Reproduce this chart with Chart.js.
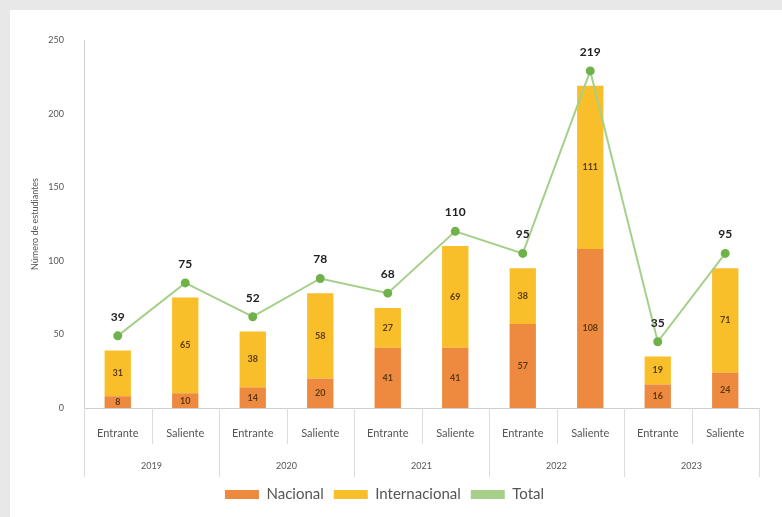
<!DOCTYPE html>
<html><head><meta charset="utf-8">
<script src="https://cdn.jsdelivr.net/npm/chart.js@4/dist/chart.umd.min.js"></script>
<style>
html,body{margin:0;padding:0;background:#e8e8e8;width:782px;height:517px;overflow:hidden;}
#wrap{position:absolute;left:10px;top:10px;width:772px;height:507px;background:#fff;}
</style></head><body>
<div id="wrap"><canvas id="c" width="772" height="507"></canvas></div>
<script>
const categories = ["Entrante","Saliente","Entrante","Saliente","Entrante","Saliente","Entrante","Saliente","Entrante","Saliente"];
const years = ["2019","2020","2021","2022","2023"];
const nacional = [8, 10, 14, 20, 41, 41, 57, 108, 16, 24];
const internacional = [31, 65, 38, 58, 27, 69, 38, 111, 19, 71];
const total = [39, 75, 52, 78, 68, 110, 95, 219, 35, 95];
const yTicks = [0, 50, 100, 150, 200, 250];

const FONT = "Lato, 'Open Sans', sans-serif";

const labelPlugin = {
  id: 'vals',
  afterDatasetsDraw(chart) {
    const ctx = chart.ctx;
    ctx.save();
    ctx.textAlign = 'center';
    ctx.textBaseline = 'middle';
    chart.data.datasets.forEach((ds, i) => {
      const meta = chart.getDatasetMeta(i);
      meta.data.forEach((el, j) => {
        const v = ds.data[j];
        if (ds.type === 'line') {
          ctx.font = "bold 12px " + FONT;
          ctx.fillStyle = '#222';
          ctx.fillText(String(v), el.x, el.y - 19);
        } else {
          ctx.font = "bold 9px " + FONT;
          ctx.fillStyle = '#5a3a10';
          ctx.fillText(String(v), el.x, (el.y + el.base) / 2);
        }
      });
    });
    ctx.restore();
  },
  afterDraw(chart) {
    const ctx = chart.ctx;
    const x = chart.scales.x, x2 = chart.scales.x2;
    const top = chart.chartArea.bottom;
    const step = (x.getPixelForValue(1) - x.getPixelForValue(0));
    ctx.save();
    ctx.strokeStyle = '#dcdcdc';
    ctx.lineWidth = 1;
    for (let i = 0; i <= categories.length; i++) {
      const px = Math.round(x.getPixelForValue(0) - step / 2 + i * step) + 0.5;
      const isGroup = i % 2 === 0;
      ctx.beginPath();
      ctx.moveTo(px, top);
      ctx.lineTo(px, isGroup ? x2.bottom : x.bottom);
      ctx.stroke();
    }
    ctx.restore();
  }
};

new Chart(document.getElementById('c'), {
  data: {
    labels: categories,
    datasets: [
      { type: 'line', label: 'Total', data: total, yAxisID: 'y2', order: 0,
        borderColor: '#a6d08a', borderWidth: 2, pointBackgroundColor: '#6fb24a',
        pointBorderColor: '#6fb24a', pointRadius: 3.5, tension: 0 },
      { type: 'bar', label: 'Nacional', data: nacional, backgroundColor: '#ee8a3f', stack: 's', order: 1,
        barPercentage: 0.39, categoryPercentage: 1 },
      { type: 'bar', label: 'Internacional', data: internacional, backgroundColor: '#f8bf2a', stack: 's', order: 1,
        barPercentage: 0.39, categoryPercentage: 1 }
    ]
  },
  options: {
    responsive: false,
    animation: false,
    events: [],
    layout: { padding: { left: 0, right: 23, top: 30, bottom: 5 } },
    plugins: {
      tooltip: { enabled: false },
      legend: {
        position: 'bottom',
        labels: {
          font: { family: FONT, size: 15 }, color: '#555',
          boxWidth: 34, boxHeight: 9, padding: 10,
          sort: (a, b) => {
            const o = { 'Nacional': 0, 'Internacional': 1, 'Total': 2 };
            return o[a.text] - o[b.text];
          },
          generateLabels(chart) {
            const items = Chart.defaults.plugins.legend.labels.generateLabels(chart);
            items.forEach(it => {
              if (it.text === 'Total') { it.fillStyle = '#a6d08a'; it.strokeStyle = '#a6d08a'; it.lineWidth = 0; }
              else { it.lineWidth = 0; }
            });
            return items;
          }
        }
      }
    },
    scales: {
      x: {
        stacked: true, weight: 0,
        grid: { display: false },
        border: { display: true, color: '#d0d0d0' },
        ticks: { font: { family: FONT, size: 11 }, color: '#555', padding: 11, maxRotation: 0, autoSkip: false },
        afterFit(s) { s.height = 36; }
      },
      x2: {
        type: 'category', labels: years, offset: true, weight: 1, position: 'bottom',
        grid: { display: false },
        border: { display: false },
        ticks: { font: { family: FONT, size: 9 }, color: '#555', padding: 9, autoSkip: false },
        afterFit(s) { s.height = 33; }
      },
      y: {
        stacked: true, min: 0, max: 250,
        afterBuildTicks(s) { s.ticks = yTicks.map(v => ({ value: v })); },
        grid: { display: false },
        border: { display: true, color: '#d0d0d0' },
        ticks: { font: { family: FONT, size: 9 }, color: '#555', padding: 12 },
        title: { display: true, text: 'Número de estudiantes', font: { family: FONT, size: 9 }, color: '#555', padding: { top: 20, bottom: 4 } },
        afterFit(s) { s.width = 74; }
      },
      y2: { display: false, min: -10, max: 240 }
    }
  },
  plugins: [labelPlugin]
});
</script>
</body></html>
